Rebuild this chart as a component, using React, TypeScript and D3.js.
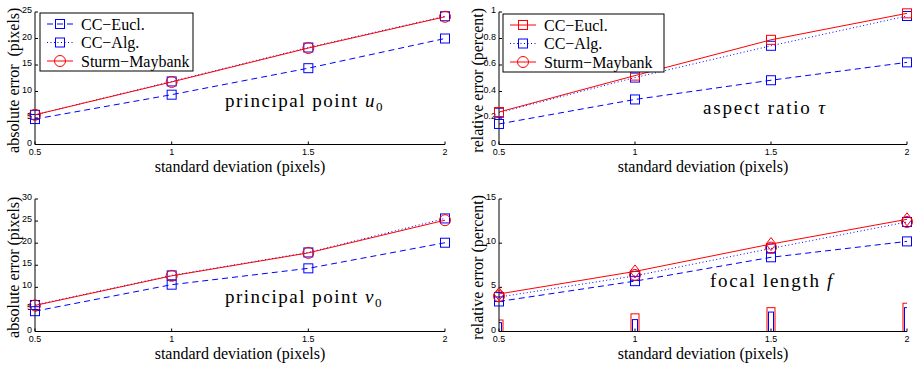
import * as d3 from "d3";

// x values: noise level (standard deviation in pixels)
const sigma = [0.5, 1, 1.5, 2];
const sigmaTicks = ["0.5", "1", "1.5", "2"];

// principal point u0, absolute error (pixels)
const u0Eucl = [4.8, 9.4, 14.4, 20.0];
const u0Alg = [5.6, 11.9, 18.3, 24.2];
const u0Sturm = [5.6, 11.8, 18.2, 24.1];

// aspect ratio tau, relative error (percent)
const tauEucl = [0.245, 0.52, 0.79, 0.99];
const tauAlg = [0.24, 0.505, 0.745, 0.97];
const tauOther = [0.155, 0.34, 0.485, 0.62];

// principal point v0, absolute error (pixels)
const v0Eucl = [4.6, 10.6, 14.3, 20.1];
const v0Alg = [6.0, 12.7, 17.9, 25.6];
const v0Sturm = [5.9, 12.6, 17.8, 25.2];

// focal length f, relative error (percent)
const fEucl = [3.4, 5.7, 8.4, 10.2];
const fAlg = [3.9, 6.3, 9.4, 12.4];
const fSturm = [4.25, 6.8, 9.9, 12.7];
const fSturmCirc = [4.0, 6.4, 9.5, 12.4];
const fBarRed = [1.3, 2.0, 2.7, 3.2];
const fBarBlue = [1.0, 1.35, 2.2, 2.7];

const legendNames = ["CC\u2212Eucl.", "CC\u2212Alg.", "Sturm\u2212Maybank"];

const RED = "#ff0000";
const BLUE = "#0000ff";
const SERIF = "'Liberation Serif', 'Times New Roman', serif";
const SANS = "'Liberation Sans', Arial, sans-serif";

type Marker = "square" | "circle" | "diamond";
interface Series {
  values: number[];
  color: string;
  dash?: string;
  marker: Marker;
  noLine?: boolean;
}
interface LegendItem {
  name: string;
  color: string;
  dash?: string;
  marker: Marker;
}

const dashed = "6,4";
const dotted = "1,2.5";

function MarkerShape({ type, x, y, color }: { type: Marker; x: number; y: number; color: string }) {
  if (type === "square")
    return <rect x={x - 4.5} y={y - 4.5} width={9} height={9} fill="none" stroke={color} strokeWidth={1} />;
  if (type === "circle") return <circle cx={x} cy={y} r={5.5} fill="none" stroke={color} strokeWidth={1} />;
  return (
    <path
      d={`M${x},${y - 6.5}L${x + 5},${y}L${x},${y + 6.5}L${x - 5},${y}Z`}
      fill="none"
      stroke={color}
      strokeWidth={1}
    />
  );
}

interface PanelProps {
  id: string;
  xRange: [number, number];
  yRange: [number, number];
  yMax: number;
  yTicks: number[];
  yLabel: string;
  series: Series[];
  legend?: { x: number; y: number; w: number; items: LegendItem[] };
  note: { x: number; y: number; main: string; sym: string; sub?: string; ls: number };
  bars?: { red: number[]; blue: number[] };
}

function Panel({ id, xRange, yRange, yMax, yTicks, yLabel, series, legend, note, bars }: PanelProps) {
  const x = d3.scaleLinear().domain([0.5, 2]).range(xRange);
  const y = d3.scaleLinear().domain([0, yMax]).range(yRange);
  const line = d3
    .line<number>()
    .x((_, i) => x(sigma[i]))
    .y((d) => y(d));
  const [x0, x1] = xRange;
  const [yb, yt] = yRange;

  return (
    <g>
      <defs>
        <clipPath id={id}>
          <rect x={x0} y={yt} width={x1 - x0} height={yb - yt} />
        </clipPath>
      </defs>
      {/* bars */}
      {bars && (
        <g clipPath={`url(#${id})`}>
          {sigma.map((s, i) => (
            <g key={i}>
              <rect x={x(s) - 4} y={y(bars.red[i])} width={8} height={yb - y(bars.red[i])} fill="none" stroke={RED} />
              <rect x={x(s) - 2.5} y={y(bars.blue[i])} width={5} height={yb - y(bars.blue[i])} fill="none" stroke={BLUE} />
            </g>
          ))}
        </g>
      )}
      {/* axes */}
      <line x1={x0} x2={x1} y1={yb} y2={yb} stroke="#000" strokeWidth={1} />
      <line x1={x0} x2={x0} y1={yb} y2={yt} stroke="#000" strokeWidth={1} />
      {sigma.map((s, i) => (
        <g key={i}>
          <line x1={x(s)} x2={x(s)} y1={yb} y2={yb - 3} stroke="#000" />
          <text x={x(s)} y={yb + 10.5} textAnchor="middle" fontFamily={SANS} fontSize={9}>
            {sigmaTicks[i]}
          </text>
        </g>
      ))}
      {yTicks.map((t) => (
        <g key={t}>
          <line x1={x0} x2={x0 + 3} y1={y(t)} y2={y(t)} stroke="#000" />
          <text x={x0 - 3} y={y(t) + 1} textAnchor="end" fontFamily={SANS} fontSize={9}>
            {String(t)}
          </text>
        </g>
      ))}
      <text x={(x0 + x1) / 2} y={yb + 27} textAnchor="middle" fontFamily={SERIF} fontSize={16}>
        standard deviation (pixels)
      </text>
      <text
        transform={`translate(${x0 - 16},${(yb + yt) / 2 + 2}) rotate(-90)`}
        textAnchor="middle"
        fontFamily={SERIF}
        fontSize={16}
      >
        {yLabel}
      </text>
      {/* series */}
      {series.map((s, k) => (
        <g key={k}>
          {!s.noLine && (
            <path d={line(s.values) || ""} fill="none" stroke={s.color} strokeWidth={1} strokeDasharray={s.dash} />
          )}
          {s.values.map((v, i) => (
            <MarkerShape key={i} type={s.marker} x={x(sigma[i])} y={y(v)} color={s.color} />
          ))}
        </g>
      ))}
      {/* annotation */}
      <text x={note.x} y={note.y} fontFamily={SERIF} fontSize={19} letterSpacing={note.ls}>
        {note.main}
        <tspan fontStyle="italic">{note.sym}</tspan>
        {note.sub && (
          <tspan fontSize={13} dy={4}>
            {note.sub}
          </tspan>
        )}
      </text>
      {/* legend */}
      {legend && (
        <g>
          <rect x={legend.x} y={legend.y} width={legend.w} height={58} fill="#fff" stroke="#000" strokeWidth={1} />
          {legend.items.map((it, i) => {
            const cy = legend.y + 11 + i * 18.5;
            return (
              <g key={i}>
                <line
                  x1={legend.x + 7}
                  x2={legend.x + 33}
                  y1={cy}
                  y2={cy}
                  stroke={it.color}
                  strokeDasharray={it.dash}
                />
                <MarkerShape type={it.marker} x={legend.x + 20} y={cy} color={it.color} />
                <text x={legend.x + 41} y={cy + 5.5} fontFamily={SERIF} fontSize={16}>
                  {it.name}
                </text>
              </g>
            );
          })}
        </g>
      )}
    </g>
  );
}

export default function App() {
  const leftX: [number, number] = [35, 445];
  const rightX: [number, number] = [499, 907];
  const topY: [number, number] = [144.5, 12];
  const botY: [number, number] = [331.5, 199];

  return (
    <div style={{ position: "absolute", left: 0, top: 0 }}>
      <svg width={915} height={367} style={{ display: "block", background: "#fff" }}>
        <Panel
          id="c1"
          xRange={leftX}
          yRange={topY}
          yMax={25}
          yTicks={[0, 5, 10, 15, 20, 25]}
          yLabel={"absolute error\u00a0 (pixels)"}
          series={[
            { values: u0Eucl, color: BLUE, dash: dashed, marker: "square" },
            { values: u0Alg, color: BLUE, dash: dotted, marker: "square" },
            { values: u0Sturm, color: RED, marker: "circle" },
          ]}
          legend={{
            x: 40,
            y: 13,
            w: 153,
            items: [
              { name: legendNames[0], color: BLUE, dash: dashed, marker: "square" },
              { name: legendNames[1], color: BLUE, dash: dotted, marker: "square" },
              { name: legendNames[2], color: RED, marker: "circle" },
            ],
          }}
          note={{ x: 225, y: 107, main: "principal point ", sym: "u", sub: "0", ls: 1.5 }}
        />
        <Panel
          id="c2"
          xRange={rightX}
          yRange={topY}
          yMax={1}
          yTicks={[0, 0.2, 0.4, 0.6, 0.8, 1]}
          yLabel="relative error (percent)"
          series={[
            { values: tauOther, color: BLUE, dash: dashed, marker: "square" },
            { values: tauAlg, color: BLUE, dash: dotted, marker: "square" },
            { values: tauEucl, color: RED, marker: "square" },
          ]}
          legend={{
            x: 503,
            y: 14,
            w: 161,
            items: [
              { name: legendNames[0], color: RED, marker: "square" },
              { name: legendNames[1], color: BLUE, dash: dotted, marker: "square" },
              { name: legendNames[2], color: RED, marker: "circle" },
            ],
          }}
          note={{ x: 703, y: 114, main: "aspect ratio ", sym: "\u03c4", ls: 1.8 }}
        />
        <Panel
          id="c3"
          xRange={leftX}
          yRange={botY}
          yMax={30}
          yTicks={[0, 5, 10, 15, 20, 25, 30]}
          yLabel="absolute error (pixels)"
          series={[
            { values: v0Eucl, color: BLUE, dash: dashed, marker: "square" },
            { values: v0Alg, color: BLUE, dash: dotted, marker: "square" },
            { values: v0Sturm, color: RED, marker: "circle" },
          ]}
          note={{ x: 225, y: 303, main: "principal point ", sym: "v", sub: "0", ls: 1.5 }}
        />
        <Panel
          id="c4"
          xRange={rightX}
          yRange={botY}
          yMax={15}
          yTicks={[0, 5, 10, 15]}
          yLabel="relative error (percent)"
          bars={{ red: fBarRed, blue: fBarBlue }}
          series={[
            { values: fEucl, color: BLUE, dash: dashed, marker: "square" },
            { values: fAlg, color: BLUE, dash: dotted, marker: "square" },
            { values: fSturmCirc, color: RED, marker: "circle", noLine: true },
            { values: fSturm, color: RED, marker: "diamond" },
          ]}
          note={{ x: 710, y: 287, main: "focal length ", sym: "f", ls: 1.7 }}
        />
      </svg>
    </div>
  );
}
